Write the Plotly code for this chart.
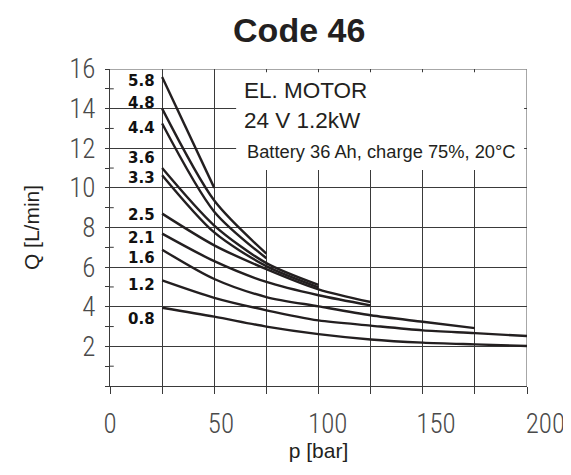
import plotly.graph_objects as go

# ---- data ----
pressure = [25, 50, 75, 100, 125, 150, 175, 200]          # p [bar]
curve_labels = ["5.8", "4.8", "4.4", "3.6", "3.3", "2.5", "2.1", "1.6", "1.2", "0.8"]
q_58 = [15.6, 10.0, None, None, None, None, None, None]
q_48 = [14.0, 9.36, 6.68, None, None, None, None, None]
q_44 = [13.25, 8.8, 6.45, None, None, None, None, None]
q_36 = [11.0, 8.1, 6.2, 5.1, None, None, None, None]
q_33 = [10.64, 7.75, 6.05, 4.98, None, None, None, None]
q_25 = [8.7, 7.1, 5.9, 4.88, 4.24, None, None, None]
q_21 = [7.69, 6.3, 5.25, 4.58, 4.07, None, None, None]
q_16 = [6.88, 5.4, 4.49, 4.02, 3.57, 3.24, 2.92, None]
q_12 = [5.33, 4.45, 3.82, 3.31, 3.05, 2.81, 2.67, 2.52]
q_08 = [3.95, 3.5, 3.0, 2.62, 2.35, 2.19, 2.1, 2.02]
series = [q_58, q_48, q_44, q_36, q_33, q_25, q_21, q_16, q_12, q_08]
label_q = [15.4, 14.3, 13.0, 11.5, 10.5, 8.62, 7.47, 6.48, 5.08, 3.4]

x_ticks = [0, 50, 100, 150, 200]
y_ticks = [2, 4, 6, 8, 10, 12, 14, 16]

GRID = "#3a3a3a"
LINE = "#231f20"

fig = go.Figure()
for name, ys in zip(curve_labels, series):
    xs = [p for p, q in zip(pressure, ys) if q is not None]
    qs = [q for q in ys if q is not None]
    fig.add_trace(go.Scatter(x=xs, y=qs, mode="lines", name=name,
                             line=dict(color=LINE, width=2.4, shape="spline", smoothing=0.8),
                             showlegend=False, hoverinfo="skip"))

for name, q in zip(curve_labels, label_q):
    fig.add_annotation(x=22.5, y=q, text=f"<b>{name}</b>", showarrow=False, xanchor="right",
                       yanchor="middle", font=dict(family="DejaVu Sans", size=15, color="#111"))

shapes = []
# white text box over the grid
shapes.append(dict(type="rect", x0=60.5, x1=198.6, y0=10.9, y1=15.84, xref="x", yref="y",
                   fillcolor="white", line=dict(width=0), layer="between"))
# top and right borders
shapes.append(dict(type="line", x0=0, x1=200, y0=16, y1=16, xref="x", yref="y",
                   line=dict(color="#8a8a8a", width=1.5), layer="below"))
shapes.append(dict(type="line", x0=200, x1=200, y0=0, y1=16, xref="x", yref="y",
                   line=dict(color="#8a8a8a", width=1.5), layer="below"))
# inside half of the crossing minor ticks on the Q axis
for q in range(1, 16, 2):
    shapes.append(dict(type="line", x0=0, x1=1.8, y0=q, y1=q, xref="x", yref="y",
                       line=dict(color=GRID, width=1)))
fig.update_layout(shapes=shapes)

fig.add_annotation(x=63.5, y=14.9, text="EL. MOTOR", showarrow=False, xanchor="left",
                   yanchor="middle", font=dict(family="Liberation Sans, Arial", size=22.5, color="#231f20"))
fig.add_annotation(x=63.5, y=13.4, text="24 V 1.2kW", showarrow=False, xanchor="left",
                   yanchor="middle", font=dict(family="Liberation Sans, Arial", size=22.5, color="#231f20"))
fig.add_annotation(x=64.6, y=11.86, text="Battery 36 Ah, charge 75%, 20°C", showarrow=False,
                   xanchor="left", yanchor="middle",
                   font=dict(family="Liberation Sans, Arial", size=18.3, color="#231f20"))

tick_font = dict(family="Roboto Condensed, Roboto, Liberation Sans Narrow, sans-serif",
                 size=27, color="#4a4a4a", weight=300)

# the reference's x labels sit a little right of their ticks (wide letter spacing)
FS, TS = "\u2007", "\u2009"
x_text = ["0", FS + "50", FS + TS + "100", FS * 2 + "150", FS * 2 + TS * 2 + "200"]

fig.update_xaxes(range=[0, 200], tickvals=x_ticks, ticktext=x_text,
                 ticks="outside", ticklen=7, tickcolor=GRID, tickwidth=1,
                 showgrid=True, gridcolor=GRID, gridwidth=1,
                 minor=dict(dtick=25, tick0=0, ticks="outside", ticklen=7, tickcolor=GRID,
                            showgrid=True, gridcolor=GRID, gridwidth=1),
                 showline=True, linecolor=GRID, linewidth=1.2, zeroline=False,
                 tickfont=tick_font, ticklabelstandoff=6,
                 title=dict(text="p [bar]", font=dict(family="Liberation Sans, Arial", size=21, color="#231f20"),
                            standoff=4))
fig.update_yaxes(range=[0, 16], tickvals=y_ticks, ticktext=[str(v) for v in y_ticks],
                 ticks="outside", ticklen=4, tickcolor=GRID, tickwidth=1,
                 showgrid=True, gridcolor=GRID, gridwidth=1,
                 minor=dict(dtick=1, tick0=1, ticks="outside", ticklen=4, tickcolor=GRID, showgrid=False),
                 showline=True, linecolor=GRID, linewidth=1.2, zeroline=False,
                 tickfont=tick_font, ticklabelstandoff=4,
                 title=dict(text="Q [L/min]", font=dict(family="Liberation Sans, Arial", size=21, color="#231f20"),
                            standoff=23))

fig.update_layout(
    width=571, height=475,
    margin=dict(l=102, r=52, t=61, b=97),
    paper_bgcolor="white", plot_bgcolor="white",
    title=dict(text="<b>Code 46</b>", x=0.51, xanchor="center", y=0.954, yanchor="middle",
               yref="container", font=dict(family="Liberation Sans, Arial", size=34, color="#231f20")),
)

fig.write_html("out.html")
